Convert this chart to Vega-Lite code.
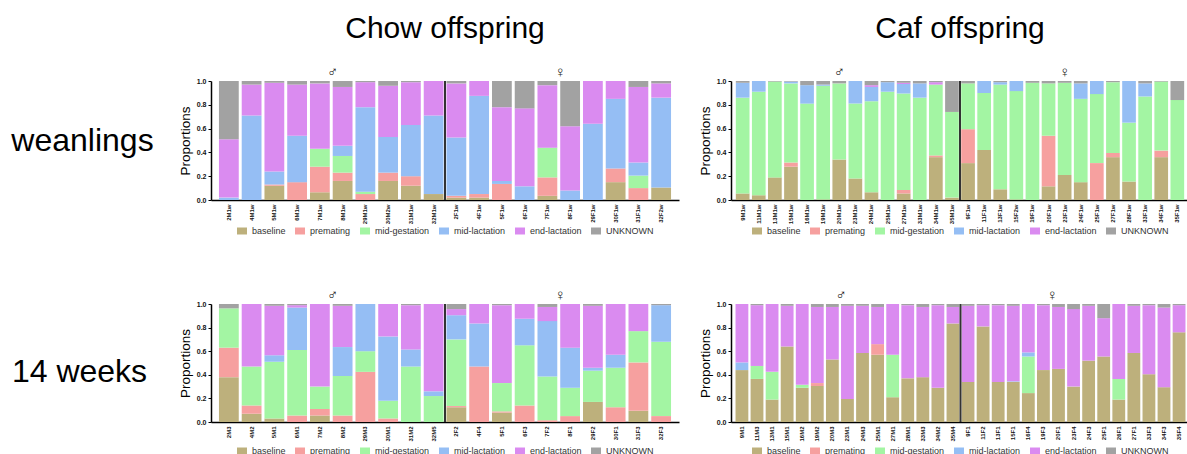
{
"$schema": "https://vega.github.io/schema/vega-lite/v6.json",
"padding": {"left": 0, "top": 14, "right": 0, "bottom": 0},
"config": {
 "font": "Liberation Sans",
 "view": {"stroke": null},
 "axis": {"grid": false, "domainColor": "#000", "tickColor": "#000", "labelColor": "#111"},
 "axisX": {"labelAngle": -90, "labelFontSize": 6, "labelFontWeight": "bold", "ticks": false, "labelPadding": 4, "domainWidth": 1.5},
 "axisY": {"labelFontSize": 7, "labelFontWeight": "bold", "tickSize": 3, "titleFontSize": 13.5, "titleFontWeight": "normal", "titlePadding": 4, "domainWidth": 1.5, "titleColor": "#000"},
 "legend": {"orient": "bottom", "direction": "horizontal", "labelFontSize": 9, "labelColor": "#333", "symbolType": "M-1,-0.7H1V0.7H-1Z", "symbolSize": 100, "symbolStrokeWidth": 0, "symbolOpacity": 1, "columnPadding": 9, "labelOffset": 5, "offset": 2, "padding": 0, "layout": {"anchor": "middle"}},
 "title": {"fontSize": 30, "fontWeight": "normal", "color": "#000", "offset": 21}
},
"datasets": {
 "cats": [{"key":"b","cat":"baseline","k":0},{"key":"p","cat":"premating","k":1},{"key":"g","cat":"mid-gestation","k":2},{"key":"l","cat":"mid-lactation","k":3},{"key":"e","cat":"end-lactation","k":4},{"key":"u","cat":"UNKNOWN","k":5}],
 "cw": [
  {"s":"2M1w","l":0.02,"e":0.49,"u":0.49},
  {"s":"4M1w","l":0.71,"e":0.26,"u":0.03},
  {"s":"5M1w","b":0.12,"p":0.01,"l":0.11,"e":0.745,"u":0.015},
  {"s":"6M1w","p":0.15,"l":0.39,"e":0.43,"u":0.03},
  {"s":"7M1w","b":0.065,"p":0.215,"g":0.15,"e":0.55,"u":0.02},
  {"s":"8M1w","b":0.16,"p":0.07,"g":0.14,"l":0.085,"e":0.495,"u":0.05},
  {"s":"29M1w","p":0.05,"g":0.02,"l":0.71,"e":0.21,"u":0.01},
  {"s":"30M2w","b":0.16,"p":0.07,"l":0.30,"e":0.43,"u":0.04},
  {"s":"31M1w","b":0.12,"p":0.08,"l":0.43,"e":0.36,"u":0.01},
  {"s":"32M1w","b":0.05,"l":0.66,"e":0.29},
  {"s":"2F1w","b":0.02,"p":0.015,"l":0.49,"e":0.455,"u":0.02},
  {"s":"4F1w","b":0.02,"p":0.03,"l":0.825,"e":0.125},
  {"s":"5F1w","p":0.135,"l":0.025,"e":0.62,"u":0.22},
  {"s":"6F1w","l":0.115,"e":0.655,"u":0.23},
  {"s":"7F1w","b":0.035,"p":0.155,"g":0.25,"e":0.525,"u":0.035},
  {"s":"8F1w","l":0.08,"e":0.54,"u":0.38},
  {"s":"29F1w","l":0.64,"e":0.36},
  {"s":"30F1w","b":0.15,"p":0.115,"l":0.585,"e":0.15},
  {"s":"31F1w","p":0.1,"g":0.105,"l":0.11,"e":0.635,"u":0.05},
  {"s":"32F2w","b":0.105,"l":0.755,"e":0.12,"u":0.02}
 ],
 "fw": [
  {"s":"9M1w","b":0.055,"g":0.805,"l":0.125,"u":0.015},
  {"s":"11M1w","b":0.04,"g":0.87,"l":0.09},
  {"s":"13M1w","b":0.19,"g":0.805,"u":0.005},
  {"s":"15M1w","b":0.28,"p":0.035,"g":0.665,"l":0.015,"u":0.005},
  {"s":"16M1w","g":0.81,"l":0.155,"u":0.035},
  {"s":"19M1w","b":0.005,"g":0.955,"l":0.01,"u":0.03},
  {"s":"20M1w","b":0.34,"g":0.64,"u":0.02},
  {"s":"23M1w","b":0.18,"g":0.63,"l":0.19},
  {"s":"24M1w","b":0.065,"g":0.765,"l":0.12,"e":0.015,"u":0.035},
  {"s":"25M1w","g":0.91,"l":0.08,"u":0.01},
  {"s":"27M1w","b":0.055,"p":0.03,"g":0.81,"l":0.08,"e":0.01,"u":0.015},
  {"s":"33M1w","g":0.86,"l":0.12,"u":0.02},
  {"s":"34M1w","b":0.36,"p":0.015,"g":0.595,"e":0.02,"u":0.01},
  {"s":"35M1w","b":0.02,"g":0.72,"u":0.26},
  {"s":"9F1w","b":0.31,"p":0.285,"g":0.385,"u":0.02},
  {"s":"11F1w","b":0.42,"g":0.48,"l":0.1},
  {"s":"13F1w","b":0.09,"g":0.88,"l":0.02,"u":0.01},
  {"s":"15F2w","b":0.005,"g":0.91,"l":0.085},
  {"s":"19F1w","g":0.985,"u":0.015},
  {"s":"20F1w","b":0.115,"p":0.425,"g":0.44,"u":0.02},
  {"s":"23F1w","b":0.21,"g":0.775,"u":0.015},
  {"s":"24F1w","b":0.15,"g":0.70,"l":0.13,"u":0.02},
  {"s":"25F1w","p":0.31,"g":0.58,"l":0.11},
  {"s":"27F1w","b":0.36,"p":0.035,"g":0.595,"u":0.01},
  {"s":"28F1w","b":0.155,"g":0.495,"l":0.35},
  {"s":"33F1w","g":0.87,"l":0.11,"u":0.02},
  {"s":"34F1w","b":0.36,"p":0.055,"g":0.58,"u":0.005},
  {"s":"35F1w","g":0.84,"u":0.16}
 ],
 "c14": [
  {"s":"2M3","b":0.38,"p":0.25,"g":0.333,"u":0.037},
  {"s":"4M2","b":0.07,"p":0.07,"g":0.33,"e":0.53},
  {"s":"5M1","b":0.03,"g":0.48,"l":0.055,"e":0.42,"u":0.015},
  {"s":"6M1","p":0.055,"g":0.555,"l":0.36,"e":0.02,"u":0.01},
  {"s":"7M2","b":0.055,"p":0.055,"g":0.19,"e":0.70},
  {"s":"8M2","p":0.055,"g":0.335,"l":0.245,"e":0.35,"u":0.015},
  {"s":"29M3","p":0.425,"g":0.175,"l":0.40},
  {"s":"30M1","p":0.03,"g":0.15,"l":0.545,"e":0.275},
  {"s":"31M2","g":0.47,"l":0.145,"e":0.375,"u":0.01},
  {"s":"32M5","g":0.22,"l":0.04,"e":0.74},
  {"s":"2F2","b":0.125,"p":0.01,"g":0.565,"l":0.205,"e":0.052,"u":0.043},
  {"s":"4F4","p":0.47,"l":0.365,"e":0.165},
  {"s":"5F1","b":0.08,"p":0.01,"g":0.24,"e":0.66,"u":0.01},
  {"s":"6F3","p":0.14,"g":0.51,"l":0.225,"e":0.125},
  {"s":"7F2","p":0.015,"g":0.37,"l":0.47,"e":0.12,"u":0.025},
  {"s":"8F1","p":0.05,"g":0.24,"l":0.34,"e":0.37},
  {"s":"29F2","b":0.17,"g":0.265,"l":0.025,"e":0.525,"u":0.015},
  {"s":"30F1","p":0.125,"g":0.335,"l":0.11,"e":0.43},
  {"s":"31F3","b":0.095,"p":0.41,"g":0.265,"e":0.23},
  {"s":"32F3","p":0.05,"g":0.63,"l":0.31,"u":0.01}
 ],
 "f14": [
  {"s":"9M1","b":0.44,"l":0.065,"e":0.495},
  {"s":"11M3","b":0.365,"g":0.11,"e":0.515,"u":0.01},
  {"s":"13M1","b":0.19,"g":0.235,"e":0.575},
  {"s":"15M1","b":0.64,"e":0.345,"u":0.015},
  {"s":"16M2","b":0.29,"g":0.025,"e":0.685},
  {"s":"19M2","b":0.305,"p":0.025,"e":0.645,"u":0.025},
  {"s":"20M3","b":0.53,"e":0.445,"u":0.025},
  {"s":"23M1","b":0.195,"e":0.79,"u":0.015},
  {"s":"24M3","b":0.585,"e":0.40,"u":0.015},
  {"s":"25M1","b":0.57,"p":0.09,"e":0.315,"u":0.025},
  {"s":"27M1","b":0.21,"g":0.36,"e":0.43},
  {"s":"28M1","b":0.37,"e":0.62,"u":0.01},
  {"s":"33M3","b":0.38,"e":0.595,"u":0.025},
  {"s":"34M2","b":0.29,"e":0.70,"u":0.01},
  {"s":"35M4","b":0.835,"e":0.14,"u":0.025},
  {"s":"9F1","b":0.34,"e":0.645,"u":0.015},
  {"s":"11F2","b":0.81,"e":0.18,"u":0.01},
  {"s":"13F1","b":0.34,"e":0.65,"u":0.01},
  {"s":"15F1","b":0.34,"l":0.005,"e":0.64,"u":0.015},
  {"s":"16F4","b":0.245,"g":0.31,"l":0.035,"e":0.41},
  {"s":"19F3","b":0.44,"e":0.55,"u":0.01},
  {"s":"20F1","b":0.45,"e":0.525,"u":0.025},
  {"s":"23F4","b":0.30,"e":0.657,"u":0.043},
  {"s":"24F3","b":0.52,"e":0.465,"u":0.015},
  {"s":"25F1","b":0.555,"e":0.325,"u":0.12},
  {"s":"26F1","b":0.19,"g":0.175,"e":0.635},
  {"s":"27F1","b":0.585,"e":0.40,"u":0.015},
  {"s":"33F3","b":0.405,"e":0.585,"u":0.01},
  {"s":"34F3","b":0.295,"e":0.675,"u":0.03},
  {"s":"35F4","b":0.76,"e":0.23,"u":0.01}
 ]
},
"spacing": 52,
"resolve": {"scale": {"color": "independent"}, "legend": {"color": "independent"}},
"vconcat": [
 {"spacing": 19,
  "resolve": {"scale": {"color": "independent"}, "legend": {"color": "independent"}},
  "hconcat": [
   {"width": 159, "height": 119, "data": {"values": [{"t": "weanlings"}]},
    "mark": {"type": "text", "fontSize": 32, "font": "Liberation Sans", "color": "#000", "dx": 3},
    "encoding": {"text": {"field": "t"}}},
   {"title": "Chow offspring", "width": 468, "height": 119,
    "layer": [
     {"data": {"name": "cw"},
      "transform": [{"fold": ["b","p","g","l","e","u"], "as": ["key","val"]}, {"filter": "datum.val > 0"},
        {"lookup": "key", "from": {"data": {"name": "cats"}, "key": "key", "fields": ["cat","k"]}}],
      "mark": {"type": "bar"},
      "encoding": {
       "x": {"field": "s", "type": "nominal", "sort": null, "scale": {"paddingInner": 0.13, "paddingOuter": 0.35}, "axis": {"title": null}},
       "y": {"field": "val", "type": "quantitative", "stack": "zero", "scale": {"domain": [0,1]}, "axis": {"title": "Proportions", "values": [0,0.2,0.4,0.6,0.8,1], "format": ".1f", "labelOverlap": false, "labelFlush": false, "labelBound": false}},
       "color": {"field": "cat", "type": "nominal", "scale": {"domain": ["baseline","premating","mid-gestation","mid-lactation","end-lactation","UNKNOWN"], "range": ["#BDB07C","#F6A09F","#A3F5A3","#95BEF4","#DA8BF0","#A2A2A2"]}, "legend": {"title": null}},
       "order": {"field": "k", "type": "quantitative"}}},
     {"data": {"values": [{"s": "2F1w"}]}, "mark": {"type": "rule", "color": "#333", "strokeWidth": 2},
      "encoding": {"x": {"field": "s", "type": "nominal", "sort": null, "bandPosition": -0.075}}},
     {"data": {"values": [{"s": "8M1w", "t": "♂"}, {"s": "8F1w", "t": "♀"}]}, "mark": {"type": "text", "fontSize": 15, "dy": -9, "color": "#222"},
      "encoding": {"x": {"field": "s", "type": "nominal", "sort": null, "bandPosition": 0}, "y": {"datum": 1, "type": "quantitative", "axis": {"title": "Proportions", "values": [0,0.2,0.4,0.6,0.8,1], "format": ".1f", "labelOverlap": false, "labelFlush": false, "labelBound": false}}, "text": {"field": "t"}}}
    ]},
   {"title": "Caf offspring", "width": 458, "height": 119,
    "layer": [
     {"data": {"name": "fw"},
      "transform": [{"fold": ["b","p","g","l","e","u"], "as": ["key","val"]}, {"filter": "datum.val > 0"},
        {"lookup": "key", "from": {"data": {"name": "cats"}, "key": "key", "fields": ["cat","k"]}}],
      "mark": {"type": "bar"},
      "encoding": {
       "x": {"field": "s", "type": "nominal", "sort": null, "scale": {"paddingInner": 0.15, "paddingOuter": 0.3}, "axis": {"title": null}},
       "y": {"field": "val", "type": "quantitative", "stack": "zero", "scale": {"domain": [0,1]}, "axis": {"title": "Proportions", "values": [0,0.2,0.4,0.6,0.8,1], "format": ".1f", "labelOverlap": false, "labelFlush": false, "labelBound": false}},
       "color": {"field": "cat", "type": "nominal", "scale": {"domain": ["baseline","premating","mid-gestation","mid-lactation","end-lactation","UNKNOWN"], "range": ["#BDB07C","#F6A09F","#A3F5A3","#95BEF4","#DA8BF0","#A2A2A2"]}, "legend": {"title": null}},
       "order": {"field": "k", "type": "quantitative"}}},
     {"data": {"values": [{"s": "9F1w"}]}, "mark": {"type": "rule", "color": "#333", "strokeWidth": 2},
      "encoding": {"x": {"field": "s", "type": "nominal", "sort": null, "bandPosition": -0.088}}},
     {"data": {"values": [{"s": "20M1w", "t": "♂"}, {"s": "23F1w", "t": "♀"}]}, "mark": {"type": "text", "fontSize": 15, "dy": -9, "color": "#222"},
      "encoding": {"x": {"field": "s", "type": "nominal", "sort": null, "bandPosition": 0.5}, "y": {"datum": 1, "type": "quantitative", "axis": {"title": "Proportions", "values": [0,0.2,0.4,0.6,0.8,1], "format": ".1f", "labelOverlap": false, "labelFlush": false, "labelBound": false}}, "text": {"field": "t"}}}
    ]}
  ]},
 {"spacing": 19,
  "resolve": {"scale": {"color": "independent"}, "legend": {"color": "independent"}},
  "hconcat": [
   {"width": 159, "height": 118, "data": {"values": [{"t": "14 weeks"}]},
    "mark": {"type": "text", "fontSize": 32, "font": "Liberation Sans", "color": "#000", "dy": 9},
    "encoding": {"text": {"field": "t"}}},
   {"width": 468, "height": 118,
    "layer": [
     {"data": {"name": "c14"},
      "transform": [{"fold": ["b","p","g","l","e","u"], "as": ["key","val"]}, {"filter": "datum.val > 0"},
        {"lookup": "key", "from": {"data": {"name": "cats"}, "key": "key", "fields": ["cat","k"]}}],
      "mark": {"type": "bar"},
      "encoding": {
       "x": {"field": "s", "type": "nominal", "sort": null, "scale": {"paddingInner": 0.13, "paddingOuter": 0.35}, "axis": {"title": null}},
       "y": {"field": "val", "type": "quantitative", "stack": "zero", "scale": {"domain": [0,1]}, "axis": {"title": "Proportions", "values": [0,0.2,0.4,0.6,0.8,1], "format": ".1f", "labelOverlap": false, "labelFlush": false, "labelBound": false}},
       "color": {"field": "cat", "type": "nominal", "scale": {"domain": ["baseline","premating","mid-gestation","mid-lactation","end-lactation","UNKNOWN"], "range": ["#BDB07C","#F6A09F","#A3F5A3","#95BEF4","#DA8BF0","#A2A2A2"]}, "legend": {"title": null, "offset": 4}},
       "order": {"field": "k", "type": "quantitative"}}},
     {"data": {"values": [{"s": "2F2"}]}, "mark": {"type": "rule", "color": "#333", "strokeWidth": 2},
      "encoding": {"x": {"field": "s", "type": "nominal", "sort": null, "bandPosition": -0.075}}},
     {"data": {"values": [{"s": "8M2", "t": "♂"}, {"s": "8F1", "t": "♀"}]}, "mark": {"type": "text", "fontSize": 15, "dy": -9, "color": "#222"},
      "encoding": {"x": {"field": "s", "type": "nominal", "sort": null, "bandPosition": 0}, "y": {"datum": 1, "type": "quantitative", "axis": {"title": "Proportions", "values": [0,0.2,0.4,0.6,0.8,1], "format": ".1f", "labelOverlap": false, "labelFlush": false, "labelBound": false}}, "text": {"field": "t"}}}
    ]},
   {"width": 459, "height": 118,
    "layer": [
     {"data": {"name": "f14"},
      "transform": [{"fold": ["b","p","g","l","e","u"], "as": ["key","val"]}, {"filter": "datum.val > 0"},
        {"lookup": "key", "from": {"data": {"name": "cats"}, "key": "key", "fields": ["cat","k"]}}],
      "mark": {"type": "bar"},
      "encoding": {
       "x": {"field": "s", "type": "nominal", "sort": null, "scale": {"paddingInner": 0.15, "paddingOuter": 0.3}, "axis": {"title": null}},
       "y": {"field": "val", "type": "quantitative", "stack": "zero", "scale": {"domain": [0,1]}, "axis": {"title": "Proportions", "values": [0,0.2,0.4,0.6,0.8,1], "format": ".1f", "labelOverlap": false, "labelFlush": false, "labelBound": false}},
       "color": {"field": "cat", "type": "nominal", "scale": {"domain": ["baseline","premating","mid-gestation","mid-lactation","end-lactation","UNKNOWN"], "range": ["#BDB07C","#F6A09F","#A3F5A3","#95BEF4","#DA8BF0","#A2A2A2"]}, "legend": {"title": null, "offset": 4}},
       "order": {"field": "k", "type": "quantitative"}}},
     {"data": {"values": [{"s": "9F1"}]}, "mark": {"type": "rule", "color": "#333", "strokeWidth": 2},
      "encoding": {"x": {"field": "s", "type": "nominal", "sort": null, "bandPosition": -0.088}}},
     {"data": {"values": [{"s": "23M1", "t": "♂"}, {"s": "20F1", "t": "♀"}]}, "mark": {"type": "text", "fontSize": 15, "dy": -9, "color": "#222"},
      "encoding": {"x": {"field": "s", "type": "nominal", "sort": null, "bandPosition": 0}, "y": {"datum": 1, "type": "quantitative", "axis": {"title": "Proportions", "values": [0,0.2,0.4,0.6,0.8,1], "format": ".1f", "labelOverlap": false, "labelFlush": false, "labelBound": false}}, "text": {"field": "t"}}}
    ]}
  ]}
]
}
